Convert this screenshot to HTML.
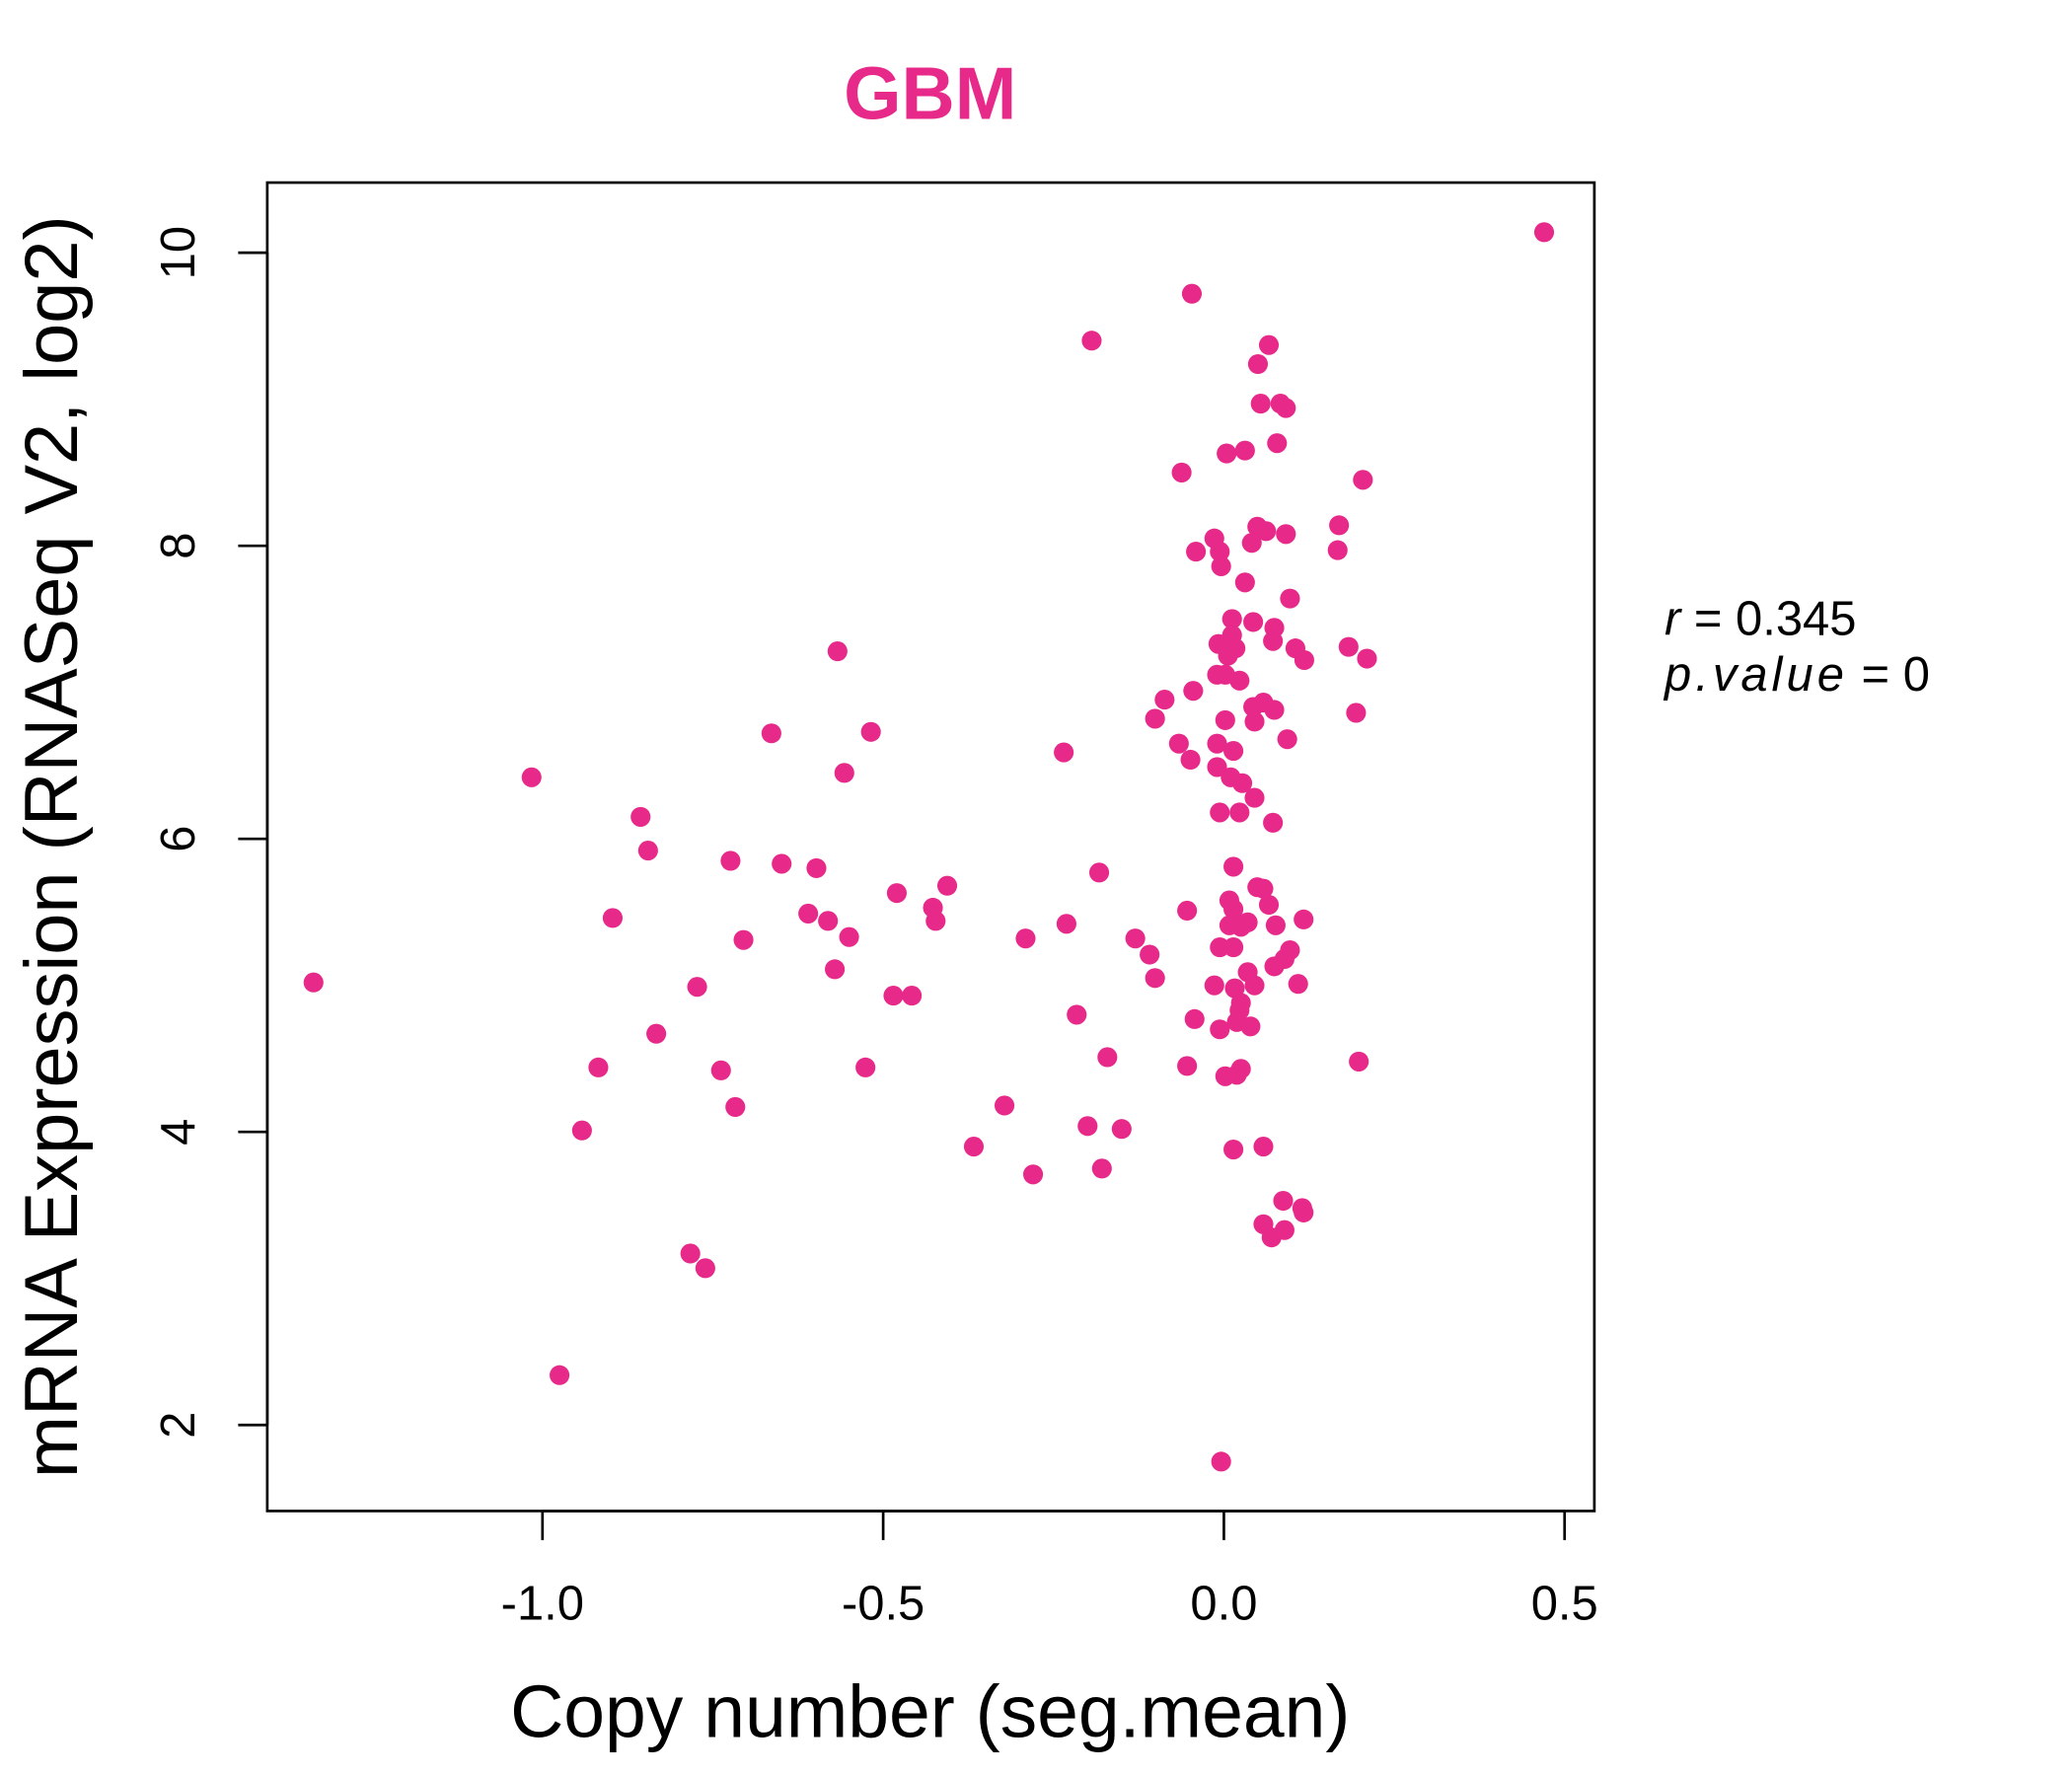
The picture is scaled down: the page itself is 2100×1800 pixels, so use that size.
<!DOCTYPE html>
<html><head><meta charset="utf-8"><style>
html,body{margin:0;padding:0;background:#fff;}
svg{display:block;}
text{font-family:"Liberation Sans",sans-serif;}
</style></head><body>
<svg id="chart" width="2100" height="1800" viewBox="0 0 1566 1342.3" preserveAspectRatio="none" xmlns="http://www.w3.org/2000/svg">
<rect width="1566" height="1342.3" fill="#fff"/>
<text x="703" y="90" text-anchor="middle" font-size="56" font-weight="bold" fill="#E7298A">GBM</text>
<rect x="202" y="138" width="1003" height="1004" fill="none" stroke="#000" stroke-width="2"/>
<g id="xaxis"></g>
<g id="yaxis"></g>
<g id="points"></g>
<text x="703" y="1313" text-anchor="middle" font-size="56">Copy number (seg.mean)</text>
<text transform="translate(58,640) rotate(-90)" text-anchor="middle" font-size="56.5">mRNA Expression (RNASeq V2, log2)</text>
<text x="1258" y="480" font-size="36.5"><tspan font-style="italic">r</tspan> = 0.345</text>
<text x="1258" y="522" font-size="36.5"><tspan font-style="italic" letter-spacing="3">p.value</tspan> = 0</text>
</svg>
<script>
const xTicks=[-1.0,-0.5,0.0,0.5];
const xTickLabels=["-1.0","-0.5","0.0","0.5"];
const yTicks=[2,4,6,8,10];
const yTickLabels=["2","4","6","8","10"];
const copyNumber=[0.47,-0.047,-0.194,0.066,0.050,0.054,0.083,0.091,0.078,0.031,0.004,-0.062,0.204,0.169,0.049,0.062,0.091,-0.014,0.041,-0.041,-0.006,0.167,-0.004,0.031,0.097,0.012,0.043,0.074,0.012,-0.008,0.072,0.017,0.183,0.105,-0.567,0.006,0.118,0.210,0.002,-0.010,0.023,-0.045,-0.087,0.058,0.043,0.074,-0.101,0.194,0.045,0.002,-0.664,-0.518,0.093,-0.066,-0.010,0.014,-0.235,-0.049,-0.010,-0.557,0.010,-1.016,0.027,0.045,-0.006,0.023,-0.856,0.072,-0.845,-0.724,-0.649,-0.598,-0.183,0.014,-0.406,0.049,0.058,-0.480,0.008,0.066,-0.427,0.014,-0.610,-0.054,-0.581,-0.423,-0.897,0.117,0.035,-0.231,0.008,0.076,0.025,-0.550,-0.130,-0.291,-0.705,0.097,-0.006,0.014,-0.109,0.089,0.074,-0.571,0.035,-0.101,-1.336,0.109,-0.014,0.045,0.016,-0.773,-0.485,-0.458,0.025,0.023,-0.216,-0.043,0.019,0.039,-0.006,-0.833,0.198,-0.171,-0.054,-0.918,-0.526,-0.738,0.025,0.019,0.002,-0.322,-0.717,-0.200,-0.150,-0.942,-0.367,0.058,0.014,-0.179,-0.280,0.087,0.115,0.117,0.058,0.089,0.070,-0.783,-0.761,-0.975,-0.004];
const expression=[10.14,9.72,9.40,9.37,9.24,8.97,8.97,8.94,8.70,8.65,8.63,8.50,8.45,8.14,8.13,8.10,8.08,8.05,8.02,7.96,7.96,7.97,7.86,7.75,7.64,7.50,7.48,7.44,7.39,7.33,7.35,7.30,7.31,7.30,7.28,7.25,7.22,7.23,7.12,7.12,7.08,7.01,6.95,6.93,6.90,6.88,6.82,6.86,6.80,6.81,6.72,6.73,6.68,6.65,6.65,6.60,6.59,6.54,6.49,6.45,6.42,6.42,6.38,6.28,6.18,6.18,6.15,6.11,5.92,5.85,5.83,5.80,5.77,5.81,5.68,5.67,5.66,5.63,5.58,5.55,5.53,5.52,5.49,5.51,5.44,5.44,5.46,5.45,5.43,5.42,5.41,5.41,5.40,5.33,5.32,5.32,5.31,5.24,5.26,5.26,5.21,5.18,5.13,5.11,5.09,5.05,5.02,5.01,5.00,5.00,4.98,4.99,4.93,4.93,4.88,4.83,4.80,4.77,4.75,4.72,4.70,4.67,4.48,4.51,4.45,4.44,4.44,4.42,4.43,4.39,4.38,4.18,4.17,4.04,4.02,4.01,3.90,3.90,3.88,3.75,3.71,3.53,3.48,3.45,3.37,3.33,3.28,3.17,3.07,2.34,1.75];

const NS="http://www.w3.org/2000/svg";
function xScale(v){return 925+(v-0)*515;}
function yScale(v){return 191+(10-v)*110.75;}
function mk(tag,attrs,parent){const e=document.createElementNS(NS,tag);for(const k in attrs)e.setAttribute(k,attrs[k]);parent.appendChild(e);return e;}
const xg=document.getElementById('xaxis');
mk('line',{x1:xScale(xTicks[0]),x2:xScale(xTicks[xTicks.length-1]),y1:1142,y2:1142,stroke:'#000','stroke-width':2},xg);
xTicks.forEach((t,i)=>{
  const l=mk('line',{x1:xScale(t),x2:xScale(t),y1:1142,y2:1164,stroke:'#000','stroke-width':2},xg);
  
  
  const tx=mk('text',{x:xScale(t),y:1224,'text-anchor':'middle','font-size':36.5},xg);
  tx.textContent=xTickLabels[i];
  
  
});
const yg=document.getElementById('yaxis');
mk('line',{x1:202,x2:202,y1:yScale(yTicks[0]),y2:yScale(yTicks[yTicks.length-1]),stroke:'#000','stroke-width':2},yg);
yTicks.forEach((t,i)=>{
  const l=mk('line',{x1:180,x2:202,y1:yScale(t),y2:yScale(t),stroke:'#000','stroke-width':2},yg);
  
  
  const tx=mk('text',{transform:`translate(147,${yScale(t)}) rotate(-90)`,'text-anchor':'middle','font-size':36.5},yg);
  tx.textContent=yTickLabels[i];
  
  
});
const pg=document.getElementById('points');
copyNumber.forEach((x,i)=>{
  const c=mk('circle',{cx:xScale(x),cy:yScale(expression[i]),r:7.5,fill:'#E7298A'},pg);
  
  
});
</script>
</body></html>
